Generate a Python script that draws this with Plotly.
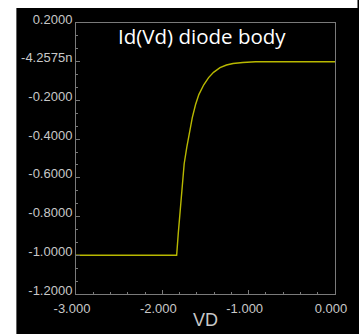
import plotly.graph_objects as go

# Data
vd = [-3.0, -2.5, -2.0, -1.834, -1.815, -1.785, -1.766, -1.747, -1.717, -1.690,
      -1.679, -1.653, -1.615, -1.577, -1.520, -1.464, -1.407, -1.332, -1.257,
      -1.181, -1.068, -0.92, -0.5, 0.0]
id_vals = [-1.0, -1.0, -1.0, -1.0, -0.884, -0.714, -0.612, -0.527, -0.442, -0.374,
           -0.357, -0.289, -0.221, -0.170, -0.119, -0.082, -0.055, -0.031, -0.017,
           -0.009, -0.004, 0.0, 0.0, 0.0]

y_tickvals = [0.2, 0.0, -0.2, -0.4, -0.6, -0.8, -1.0, -1.2]
y_ticktext = ["0.2000", "-4.2575n", "-0.2000", "-0.4000", "-0.6000", "-0.8000", "-1.0000", "-1.2000"]
x_tickvals = [-3, -2, -1, 0]
x_ticktext = ["-3.000", "-2.000", "-1.000", "0.000"]

title_text = "Id(Vd) diode body"
x_title = "VD"

W, H = 359, 334
L, R, T, B = 76, 18, 21, 40
pw, ph = W - L - R, H - T - B

fig = go.Figure()
fig.add_trace(go.Scatter(x=vd, y=id_vals, mode="lines",
                         line=dict(color="#b8b800", width=1.4),
                         showlegend=False, hoverinfo="skip"))

axis_common = dict(showgrid=False, zeroline=False, showline=True, linecolor="#7a7a7a",
                   linewidth=1, mirror=True, ticks="inside", tickcolor="#7a7a7a",
                   ticklen=4, tickfont=dict(family="Liberation Sans, Arial", size=13, color="#c8c8c8"))

fig.update_xaxes(range=[-3, 0], tickvals=x_tickvals, ticktext=x_ticktext,
                 ticklabelshift=-4, ticklabelstandoff=2,
                 minor=dict(dtick=0.2, tick0=0, ticks="inside", ticklen=2, tickcolor="#7a7a7a"),
                 **axis_common)
fig.update_yaxes(range=[-1.2, 0.2], tickvals=y_tickvals, ticktext=y_ticktext,
                 ticklabelshift=-4,
                 minor=dict(dtick=0.2 / 3, tick0=0.2, ticks="inside", ticklen=2, tickcolor="#7a7a7a"),
                 **axis_common)


def px_to_paper_x(px):
    return (px - L) / pw


def px_to_paper_y(py):
    return (H - B - py) / ph


# white strips on the left and top of the black panel
fig.add_shape(type="rect", xref="paper", yref="paper",
              x0=px_to_paper_x(-5), x1=px_to_paper_x(15),
              y0=px_to_paper_y(H + 5), y1=px_to_paper_y(-5),
              fillcolor="white", line=dict(width=0), layer="below")
fig.add_shape(type="rect", xref="paper", yref="paper",
              x0=px_to_paper_x(-5), x1=px_to_paper_x(W + 5),
              y0=px_to_paper_y(6), y1=px_to_paper_y(-5),
              fillcolor="white", line=dict(width=0), layer="below")

fig.add_annotation(text=title_text, xref="paper", yref="paper",
                   x=px_to_paper_x(205), y=px_to_paper_y(34), showarrow=False,
                   font=dict(family="Open Sans", size=20.5, color="white"),
                   xanchor="center", yanchor="middle")

fig.add_annotation(text=x_title, xref="paper", yref="paper",
                   x=px_to_paper_x(209), y=px_to_paper_y(320), showarrow=False,
                   font=dict(family="Liberation Sans, Arial", size=18, color="#c8c8c8"),
                   xanchor="center", yanchor="middle")

fig.update_layout(width=W, height=H, margin=dict(l=L, r=R, t=T, b=B),
                  paper_bgcolor="black", plot_bgcolor="black")

fig.write_html("out.html", config={"displayModeBar": False},
               post_script=("document.documentElement.style.overflow='hidden';"
                            "document.documentElement.style.background='black';"
                            "document.body.style.margin='0';"
                            "document.body.style.overflow='hidden';"
                            "document.body.style.background='black';"))
